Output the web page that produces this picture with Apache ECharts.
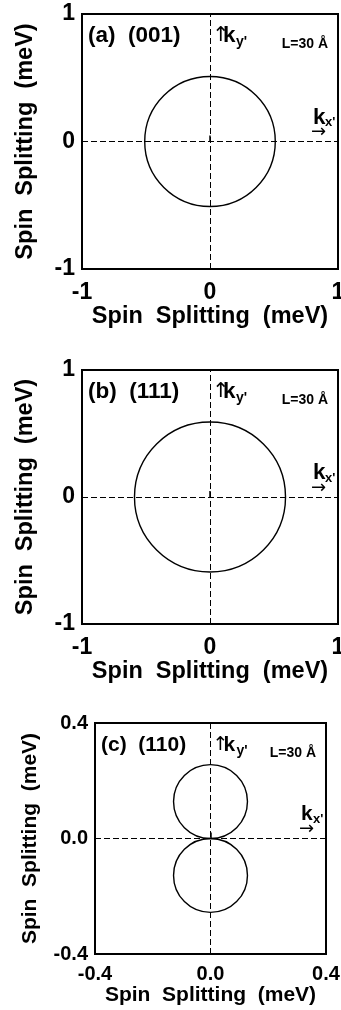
<!DOCTYPE html>
<html>
<head>
<meta charset="utf-8">
<script src="https://cdn.jsdelivr.net/npm/echarts@6/dist/echarts.min.js"></script>
<style>
  html, body { margin: 0; padding: 0; background: #fff; }
  #chart { width: 341px; height: 1010px; }
</style>
</head>
<body>
<div id="chart"></div>
<script>
// circles: [centerX, centerY, radius] in meV
const circlesA = [[0, 0, 0.51]];
const circlesB = [[0, 0, 0.59]];
const circlesC = [[0, 0.128, 0.128], [0, -0.128, 0.128]];

const panelLabels = ['(a)  (001)', '(b)  (111)', '(c)  (110)'];
const axisRanges = [[-1, 1, 1], [-1, 1, 1], [-0.4, 0.4, 0.4]];
const axisTitle = 'Spin  Splitting  (meV)';
const thickness = 'L=30 Å';

const FONT = '"Liberation Sans", Arial, sans-serif';
const ARROW_FONT = '"DejaVu Sans", sans-serif';

const grids = [
  { left: 82, top: 14, width: 256, height: 255 },
  { left: 82, top: 370, width: 256, height: 254 },
  { left: 95, top: 723, width: 231, height: 231 }
];
const fontBig = [23.5, 23.5, 21];
const fontTick = [23, 23, 20];
const fontLabel = [22.5, 22.5, 21];

function circleItem(params, api) {
  const c = api.coord([api.value(0), api.value(1)]);
  const s = api.size([api.value(2), api.value(2)]);
  return {
    type: 'ellipse',
    shape: { cx: c[0], cy: c[1], rx: s[0], ry: s[1] },
    style: { fill: 'none', stroke: '#000', lineWidth: 1.4 }
  };
}

// text annotations inside each frame
function notes(i) {
  const g = grids[i];
  const f = fontLabel[i];
  const x0 = g.left + g.width / 2;
  const y0 = g.top + g.height / 2;
  const right = g.left + g.width;
  const t = (x, y, text, size, opts) => ({
    type: 'text', x, y,
    style: Object.assign({
      text, fontSize: size, fontWeight: 'bold', fontFamily: FONT,
      fill: '#000', verticalAlign: 'middle', align: 'left'
    }, opts || {})
  });
  return [
    t(g.left + 6, g.top + 22, panelLabels[i], f),
    t(x0 + 2, g.top + 22, '↑', f - 2, { fontWeight: 'normal', fontFamily: ARROW_FONT }),
    t(x0 + 13, g.top + 22, 'k', f),
    t(x0 + 26, g.top + 28, "y'", 14),
    t(right - 10, g.top + 30, thickness, 14, { align: 'right' }),
    t(right - 25, y0 - 24, 'k', f),
    t(right - 13, y0 - 19, "x'", 13),
    t(right - 27, y0 - 9, '→', 18, { fontWeight: 'normal', fontFamily: ARROW_FONT })
  ];
}

const circles = [circlesA, circlesB, circlesC];

const option = {
  backgroundColor: '#fff',
  animation: false,
  grid: grids.map(g => Object.assign({
    show: true, borderColor: '#000', borderWidth: 2, backgroundColor: 'transparent',
    outerBoundsMode: 'none', containLabel: false
  }, g)),
  xAxis: grids.map((g, i) => ({
    gridIndex: i,
    type: 'value',
    min: axisRanges[i][0], max: axisRanges[i][1], interval: axisRanges[i][2],
    name: axisTitle,
    nameLocation: 'middle',
    nameGap: i === 2 ? 31 : 36,
    nameTextStyle: { fontSize: fontBig[i], fontWeight: 'bold', fontFamily: FONT, color: '#000' },
    axisLine: { show: false },
    axisTick: { show: true, inside: true, length: 6, lineStyle: { color: '#000', width: 1.5 } },
    splitLine: { show: false },
    axisLabel: {
      margin: i === 2 ? 10 : 12,
      fontSize: fontTick[i], fontWeight: 'bold', fontFamily: FONT, color: '#000',
      formatter: v => (i === 2 ? v.toFixed(1) : String(v))
    }
  })),
  yAxis: grids.map((g, i) => ({
    gridIndex: i,
    type: 'value',
    min: axisRanges[i][0], max: axisRanges[i][1], interval: axisRanges[i][2],
    name: axisTitle,
    nameLocation: 'middle',
    nameGap: i === 2 ? 54 : 44,
    nameTextStyle: { fontSize: fontBig[i], fontWeight: 'bold', fontFamily: FONT, color: '#000' },
    axisLine: { show: false },
    axisTick: { show: false },
    splitLine: { show: false },
    axisLabel: {
      margin: 7,
      fontSize: fontTick[i], fontWeight: 'bold', fontFamily: FONT, color: '#000',
      formatter: v => (i === 2 ? v.toFixed(1) : String(v))
    }
  })),
  series: circles.map((data, i) => ({
    type: 'custom',
    xAxisIndex: i,
    yAxisIndex: i,
    renderItem: circleItem,
    data: data,
    silent: true,
    markLine: {
      silent: true,
      symbol: 'none',
      label: { show: false },
      lineStyle: { color: '#000', width: 1, type: [6, 3] },
      data: [{ xAxis: 0 }, { yAxis: 0 }]
    }
  })),
  graphic: [].concat(notes(0), notes(1), notes(2))
};

const chart = echarts.init(document.getElementById('chart'), null, { renderer: 'canvas' });
chart.setOption(option);
</script>
</body>
</html>
